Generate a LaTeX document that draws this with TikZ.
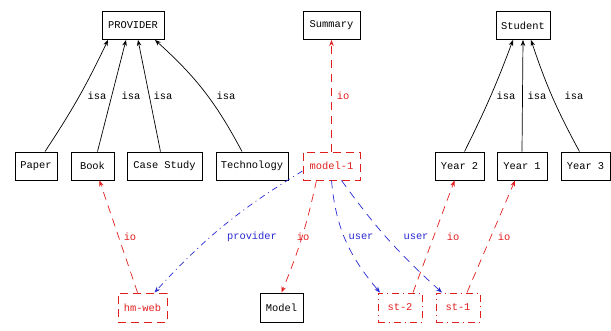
\documentclass[tikz,border=0pt]{standalone}
\usepackage{fontspec}
\setmonofont{Liberation Mono}
\usetikzlibrary{arrows.meta}
\definecolor{ored}{RGB}{225,30,30}
\definecolor{oblue}{RGB}{40,40,210}
\begin{document}
\begin{tikzpicture}[x=1pt,y=-1pt,
 font=\ttfamily\fontsize{10.4}{12}\selectfont,
 box/.style={draw, line width=0.9pt, minimum height=28pt, inner sep=0pt},
 dbox/.style={box, draw=ored, text=ored, dash pattern=on 8pt off 5pt},
 isaedge/.style={draw, line width=0.7pt, -{Stealth[length=6pt,width=4.5pt]}},
 ioedge/.style={isaedge, draw=ored, dash pattern=on 8pt off 6pt},
 usredge/.style={isaedge, draw=oblue, dash pattern=on 8pt off 6pt},
 provedge/.style={isaedge, draw=oblue, dash pattern=on 6pt off 4pt on 1pt off 4pt},
 lbl/.style={inner sep=0pt},
 rlbl/.style={lbl, text=ored},
 blbl/.style={lbl, text=oblue}]
\useasboundingbox (0,0) rectangle (611,331);
% top row
\node[box, minimum width=62pt] (provider) at (133,25.5) {PROVIDER};
\node[box, minimum width=57pt] (summary) at (331.5,25.5) {Summary};
\node[box, minimum width=54pt] (student) at (523,25.5) {Student};
% middle row
\node[box, minimum width=42pt] (paper) at (36,166) {Paper};
\node[box, minimum width=43pt] (book) at (92.5,166) {Book};
\node[box, minimum width=75pt] (case) at (164.5,166) {Case Study};
\node[box, minimum width=72pt] (tech) at (252,166) {Technology};
\node[dbox, minimum width=57pt] (model1) at (331.5,166) {model-1};
\node[box, minimum width=49pt] (year2) at (459.5,166) {Year 2};
\node[box, minimum width=50pt] (year1) at (522,166) {Year 1};
\node[box, minimum width=49pt] (year3) at (585.5,166) {Year 3};
% bottom row
\node[dbox, minimum width=49pt, minimum height=29pt] (hmweb) at (142.5,307.5) {hm-web};
\node[box, minimum width=43pt, minimum height=29pt] (model) at (281.5,307.5) {Model};
\node[dbox, minimum width=44pt, minimum height=29pt, dash pattern=on 7pt off 4pt on 1pt off 4pt] (st2) at (400,307.5) {st-2};
\node[dbox, minimum width=44pt, minimum height=29pt, dash pattern=on 7pt off 4pt on 1pt off 4pt] (st1) at (458,307.5) {st-1};
% isa edges
\draw[isaedge] ([xshift=9pt]paper.north) to[bend right=4] ([xshift=-25pt]provider.south);
\draw[isaedge] ([xshift=5pt]book.north) -- ([xshift=-7pt]provider.south);
\draw[isaedge] ([xshift=-4pt]case.north) -- ([xshift=5pt]provider.south);
\draw[isaedge] ([xshift=-10pt]tech.north) to[bend right=10] ([xshift=22pt]provider.south);
\draw[isaedge] ([xshift=5pt]year2.north) to[bend right=3] ([xshift=-10pt]student.south);
\draw[isaedge] (year1.north) -- (student.south);
\draw[isaedge] ([xshift=-6pt]year3.north) to[bend left=5] ([xshift=8pt]student.south);
% io / user / provider edges
\draw[ioedge] (model1.north) -- (summary.south);
\draw[ioedge] ([xshift=-5pt]hmweb.north) -- ([xshift=7pt]book.south);
\draw[provedge] ([yshift=-5pt]model1.west) to[bend right=8] ([xshift=12pt]hmweb.north);
\draw[ioedge] ([xshift=-15pt]model1.south) to[bend left=5] (model.north);
\draw[usredge] (model1.south) to[out=-85,in=130] ([xshift=-20pt]st2.north);
\draw[usredge] ([xshift=10pt]model1.south) to[bend right=6] ([xshift=-16pt]st1.north);
\draw[ioedge] ([xshift=13pt]st2.north) -- ([xshift=-5pt]year2.south);
\draw[ioedge] ([xshift=9pt]st1.north) -- ([xshift=-7pt]year1.south);
% labels
\node[lbl] (l1) at (97,96) {isa};
\node[lbl] (l2) at (131,96) {isa};
\node[lbl] (l3) at (163,96) {isa};
\node[lbl] (l4) at (226,96) {isa};
\node[lbl] (l5) at (506,96) {isa};
\node[lbl] (l6) at (537,96) {isa};
\node[lbl] (l7) at (574,96) {isa};
\node[rlbl] (l8) at (343,96) {io};
\node[rlbl] (l9) at (130,237) {io};
\node[blbl] (l10) at (252,237) {provider};
\node[rlbl] (l11) at (303,237) {io};
\node[blbl] (l12) at (361,237) {user};
\node[blbl] (l13) at (416,237) {user};
\node[rlbl] (l14) at (453,237) {io};
\node[rlbl] (l15) at (504,237) {io};
\end{tikzpicture}
\end{document}
